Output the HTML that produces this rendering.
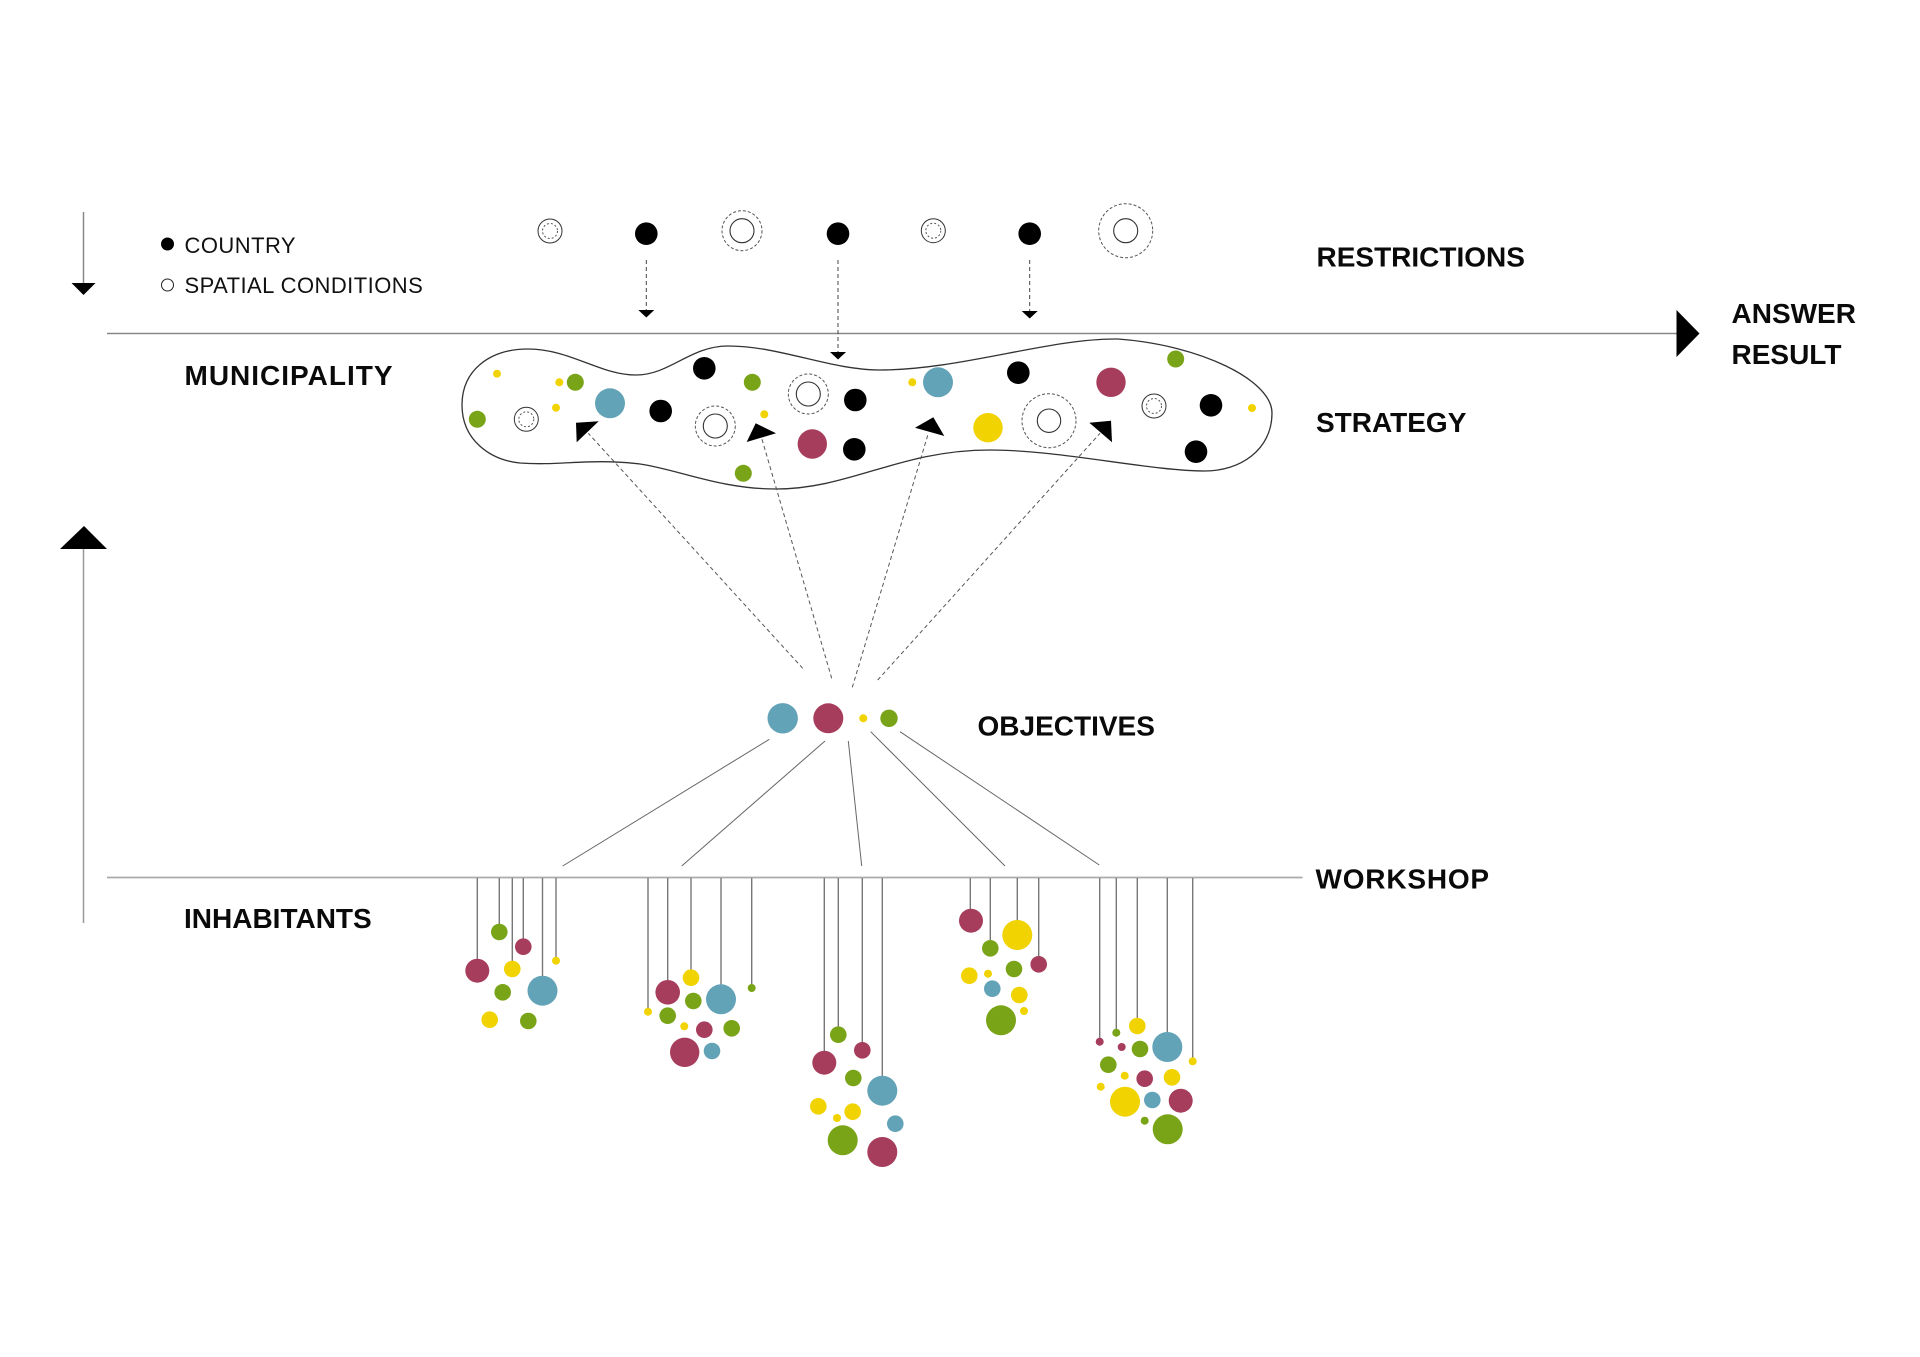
<!DOCTYPE html>
<html>
<head>
<meta charset="utf-8">
<style>
  html, body { margin: 0; padding: 0; background: #ffffff; }
  svg { display: block; }
  .lbl { font-family: "Liberation Sans", sans-serif; font-weight: bold; font-size: 28px; fill: #0a0a0a; }
  .leg { font-family: "Liberation Sans", sans-serif; font-size: 22px; fill: #111; letter-spacing: 0.45px; }
</style>
</head>
<body>
<svg width="1920" height="1357" viewBox="0 0 1920 1357" xmlns="http://www.w3.org/2000/svg">
  <rect x="0" y="0" width="1920" height="1357" fill="#ffffff"/>

  <!-- Left vertical arrows -->
  <line x1="83.5" y1="212" x2="83.5" y2="284" stroke="#888" stroke-width="1.5"/>
  <polygon points="71.5,283 95.5,283 83.5,295" fill="#000"/>
  <polygon points="60,549 107,549 84,526" fill="#000"/>
  <line x1="83.5" y1="549" x2="83.5" y2="923" stroke="#999" stroke-width="1.5"/>

  <!-- Legend -->
  <circle cx="167.5" cy="244" r="6.5" fill="#000"/>
  <text class="leg" x="184.5" y="253">COUNTRY</text>
  <circle cx="167.5" cy="285" r="6" fill="none" stroke="#222" stroke-width="1"/>
  <text class="leg" x="184.5" y="293">SPATIAL CONDITIONS</text>

  <!-- Top horizontal line + answer arrow -->
  <line x1="107" y1="333.5" x2="1678" y2="333.5" stroke="#888" stroke-width="1.5"/>
  <polygon points="1676.5,310 1676.5,357 1699.5,333.5" fill="#000"/>

  <!-- Labels -->
  <text class="lbl" x="1316.5" y="266.5">RESTRICTIONS</text>
  <text class="lbl" x="1731.5" y="323">ANSWER</text>
  <text class="lbl" x="1731.5" y="364">RESULT</text>
  <text class="lbl" x="184.5" y="385" style="letter-spacing:1px">MUNICIPALITY</text>
  <text class="lbl" x="1316" y="432">STRATEGY</text>
  <text class="lbl" x="977.5" y="735.5">OBJECTIVES</text>
  <text class="lbl" x="1315.5" y="888.5" style="letter-spacing:0.8px">WORKSHOP</text>
  <text class="lbl" x="184" y="928">INHABITANTS</text>

  <!-- Restrictions row -->
  <g>
    <circle cx="550" cy="231" r="12" fill="none" stroke="#333" stroke-width="1"/>
    <circle cx="550" cy="231" r="7.5" fill="none" stroke="#555" stroke-width="1" stroke-dasharray="2 2"/>
    <circle cx="646.3" cy="233.7" r="11.3" fill="#000"/>
    <circle cx="742" cy="230.7" r="20" fill="none" stroke="#555" stroke-width="1" stroke-dasharray="3 2"/>
    <circle cx="742" cy="230.7" r="12" fill="none" stroke="#333" stroke-width="1.1"/>
    <circle cx="838" cy="233.7" r="11.3" fill="#000"/>
    <circle cx="933.3" cy="230.7" r="12" fill="none" stroke="#333" stroke-width="1"/>
    <circle cx="933.3" cy="230.7" r="7.5" fill="none" stroke="#555" stroke-width="1" stroke-dasharray="2 2"/>
    <circle cx="1029.7" cy="233.7" r="11.3" fill="#000"/>
    <circle cx="1125.7" cy="230.7" r="27" fill="none" stroke="#555" stroke-width="1" stroke-dasharray="3 2"/>
    <circle cx="1125.7" cy="230.7" r="12" fill="none" stroke="#333" stroke-width="1.1"/>
  </g>

  <!-- Restriction dashed arrows -->
  <g stroke="#444" stroke-width="1" stroke-dasharray="4 3" fill="none">
    <line x1="646.3" y1="260" x2="646.3" y2="311"/>
    <line x1="838" y1="260" x2="838" y2="353"/>
    <line x1="1029.7" y1="260" x2="1029.7" y2="312"/>
  </g>
  <polygon points="638.3,310 654.3,310 646.3,317.5" fill="#000"/>
  <polygon points="830,352 846,352 838,359.5" fill="#000"/>
  <polygon points="1021.7,311 1037.7,311 1029.7,318.5" fill="#000"/>

  <!-- Blob -->
  <path d="M 462,405
           C 462,370 490,349 528,349
           C 570,349 600,375 636,375
           C 670,375 690,346 728,346
           C 780,346 830,370 880,370
           C 960,370 1050,338 1118,339
           C 1200,345 1272,380 1272,413
           C 1272,450 1240,471 1205,471
           C 1150,471 1060,450 990,450
           C 900,450 850,489 776,489
           C 720,489 680,470 640,464
           C 590,458 560,466 520,463
           C 490,460 462,440 462,405 Z"
        fill="none" stroke="#333" stroke-width="1.3"/>

  <!-- Blob contents -->
  <g>
    <circle cx="497" cy="373.7" r="4" fill="#f0d300"/>
    <circle cx="559.3" cy="382.3" r="4" fill="#f0d300"/>
    <circle cx="575.3" cy="382.3" r="8.5" fill="#7aa417"/>
    <circle cx="556" cy="407.7" r="4" fill="#f0d300"/>
    <circle cx="477.3" cy="419.3" r="8.5" fill="#7aa417"/>
    <circle cx="526.3" cy="419.3" r="12" fill="none" stroke="#333" stroke-width="1"/>
    <circle cx="526.3" cy="419.3" r="7.5" fill="none" stroke="#555" stroke-width="1" stroke-dasharray="2 2"/>
    <circle cx="610" cy="403.3" r="15" fill="#63a3b8"/>
    <circle cx="660.7" cy="411" r="11.3" fill="#000"/>
    <circle cx="704.3" cy="368.3" r="11.3" fill="#000"/>
    <circle cx="752.3" cy="382.3" r="8.5" fill="#7aa417"/>
    <circle cx="715.3" cy="426" r="20" fill="none" stroke="#555" stroke-width="1" stroke-dasharray="3 2"/>
    <circle cx="715.3" cy="426" r="12" fill="none" stroke="#333" stroke-width="1.1"/>
    <circle cx="764.3" cy="414.3" r="4" fill="#f0d300"/>
    <circle cx="808.3" cy="394" r="20" fill="none" stroke="#555" stroke-width="1" stroke-dasharray="3 2"/>
    <circle cx="808.3" cy="394" r="12" fill="none" stroke="#333" stroke-width="1.1"/>
    <circle cx="855.3" cy="400" r="11.3" fill="#000"/>
    <circle cx="812.3" cy="444" r="14.7" fill="#a73d5d"/>
    <circle cx="854.3" cy="449.3" r="11.3" fill="#000"/>
    <circle cx="743.3" cy="473.3" r="8.5" fill="#7aa417"/>
    <circle cx="912.3" cy="382.3" r="4" fill="#f0d300"/>
    <circle cx="938" cy="382.3" r="15" fill="#63a3b8"/>
    <circle cx="1018.3" cy="372.7" r="11.3" fill="#000"/>
    <circle cx="1111" cy="382.3" r="14.7" fill="#a73d5d"/>
    <circle cx="1175.7" cy="359" r="8.5" fill="#7aa417"/>
    <circle cx="1154" cy="406" r="12" fill="none" stroke="#333" stroke-width="1"/>
    <circle cx="1154" cy="406" r="7.5" fill="none" stroke="#555" stroke-width="1" stroke-dasharray="2 2"/>
    <circle cx="1211" cy="405.3" r="11.3" fill="#000"/>
    <circle cx="1252" cy="408" r="4" fill="#f0d300"/>
    <circle cx="988" cy="427.7" r="14.7" fill="#f0d300"/>
    <circle cx="1049" cy="420.7" r="27" fill="none" stroke="#555" stroke-width="1" stroke-dasharray="3 2"/>
    <circle cx="1049" cy="420.7" r="11.7" fill="none" stroke="#333" stroke-width="1.1"/>
    <circle cx="1196" cy="451.7" r="11.3" fill="#000"/>
  </g>

  <!-- Dashed lines from objectives to blob -->
  <g stroke="#555" stroke-width="1" stroke-dasharray="4 3" fill="none">
    <line x1="802.7" y1="668.3" x2="588.3" y2="433.3"/>
    <line x1="831.7" y1="678.3" x2="761.7" y2="438.3"/>
    <line x1="852.3" y1="687.3" x2="928.3" y2="433.3"/>
    <line x1="877.7" y1="680" x2="1100" y2="433.3"/>
  </g>
  <polygon points="576,422.7 598.7,421.3 576.7,442.3" fill="#000"/>
  <polygon points="746.7,442 755.7,423.3 776,433.3" fill="#000"/>
  <polygon points="915,427.7 933.3,417.3 944.3,436" fill="#000"/>
  <polygon points="1089.3,422.7 1111,420.7 1112,442.3" fill="#000"/>

  <!-- Objectives -->
  <circle cx="782.7" cy="718.3" r="15.2" fill="#63a3b8"/>
  <circle cx="828.3" cy="718.3" r="15" fill="#a73d5d"/>
  <circle cx="863.3" cy="718.3" r="4" fill="#f0d300"/>
  <circle cx="889" cy="718.3" r="8.7" fill="#7aa417"/>

  <!-- Objective lines -->
  <g stroke="#666" stroke-width="1" fill="none">
    <line x1="769.3" y1="739.3" x2="562.7" y2="866"/>
    <line x1="825" y1="741" x2="681.7" y2="866"/>
    <line x1="848.3" y1="741" x2="861.7" y2="866"/>
    <line x1="870.7" y1="731.7" x2="1005" y2="866"/>
    <line x1="900" y1="731.7" x2="1099.3" y2="865"/>
  </g>

  <!-- Workshop line -->
  <line x1="107" y1="877.5" x2="1302.5" y2="877.5" stroke="#aaa" stroke-width="1.8"/>

  <!-- Strings -->
  <g stroke="#777" stroke-width="1.4" fill="none">
    <line x1="477.3" y1="878" x2="477.3" y2="970"/>
    <line x1="499.3" y1="878" x2="499.3" y2="930"/>
    <line x1="512.3" y1="878" x2="512.3" y2="965"/>
    <line x1="523.3" y1="878" x2="523.3" y2="945"/>
    <line x1="542.5" y1="878" x2="542.5" y2="985"/>
    <line x1="556" y1="878" x2="556" y2="960"/>

    <line x1="648" y1="878" x2="648" y2="1010"/>
    <line x1="667.7" y1="878" x2="667.7" y2="990"/>
    <line x1="691" y1="878" x2="691" y2="975"/>
    <line x1="721" y1="878" x2="721" y2="995"/>
    <line x1="751.7" y1="878" x2="751.7" y2="987"/>

    <line x1="824.3" y1="878" x2="824.3" y2="1060"/>
    <line x1="838.3" y1="878" x2="838.3" y2="1033"/>
    <line x1="862.3" y1="878" x2="862.3" y2="1048"/>
    <line x1="882.3" y1="878" x2="882.3" y2="1085"/>

    <line x1="970.3" y1="878" x2="970.3" y2="918"/>
    <line x1="990.3" y1="878" x2="990.3" y2="946"/>
    <line x1="1017.3" y1="878" x2="1017.3" y2="930"/>
    <line x1="1038.7" y1="878" x2="1038.7" y2="962"/>

    <line x1="1099.7" y1="878" x2="1099.7" y2="1040"/>
    <line x1="1116.3" y1="878" x2="1116.3" y2="1031"/>
    <line x1="1137.3" y1="878" x2="1137.3" y2="1024"/>
    <line x1="1167.3" y1="878" x2="1167.3" y2="1042"/>
    <line x1="1192.7" y1="878" x2="1192.7" y2="1060"/>
  </g>

  <!-- Group 1 -->
  <g>
    <circle cx="477.3" cy="970.7" r="12" fill="#a73d5d"/>
    <circle cx="499.3" cy="932" r="8.3" fill="#7aa417"/>
    <circle cx="512.3" cy="969" r="8.3" fill="#f0d300"/>
    <circle cx="523.3" cy="946.7" r="8.3" fill="#a73d5d"/>
    <circle cx="542.5" cy="990.7" r="15" fill="#63a3b8"/>
    <circle cx="556" cy="960.7" r="4" fill="#f0d300"/>
    <circle cx="502.7" cy="992.3" r="8.3" fill="#7aa417"/>
    <circle cx="489.7" cy="1019.7" r="8.3" fill="#f0d300"/>
    <circle cx="528.3" cy="1021" r="8.3" fill="#7aa417"/>
  </g>

  <!-- Group 2 -->
  <g>
    <circle cx="648" cy="1011.7" r="4" fill="#f0d300"/>
    <circle cx="667.7" cy="992.3" r="12.3" fill="#a73d5d"/>
    <circle cx="691" cy="977.7" r="8.3" fill="#f0d300"/>
    <circle cx="721" cy="999.3" r="15" fill="#63a3b8"/>
    <circle cx="751.7" cy="988" r="4" fill="#7aa417"/>
    <circle cx="693.3" cy="1001" r="8.3" fill="#7aa417"/>
    <circle cx="667.7" cy="1015.7" r="8.3" fill="#7aa417"/>
    <circle cx="684.3" cy="1026.3" r="4" fill="#f0d300"/>
    <circle cx="704.3" cy="1029.7" r="8.3" fill="#a73d5d"/>
    <circle cx="731.7" cy="1028.3" r="8.3" fill="#7aa417"/>
    <circle cx="684.7" cy="1052.3" r="14.7" fill="#a73d5d"/>
    <circle cx="712" cy="1051" r="8.3" fill="#63a3b8"/>
  </g>

  <!-- Group 3 -->
  <g>
    <circle cx="824.3" cy="1062.7" r="12" fill="#a73d5d"/>
    <circle cx="838.3" cy="1034.7" r="8.3" fill="#7aa417"/>
    <circle cx="862.3" cy="1050.3" r="8.3" fill="#a73d5d"/>
    <circle cx="882.3" cy="1090.7" r="15" fill="#63a3b8"/>
    <circle cx="853.3" cy="1078" r="8.3" fill="#7aa417"/>
    <circle cx="818.3" cy="1106.3" r="8.3" fill="#f0d300"/>
    <circle cx="837" cy="1118" r="4" fill="#f0d300"/>
    <circle cx="852.7" cy="1111.7" r="8.3" fill="#f0d300"/>
    <circle cx="895.3" cy="1123.7" r="8.3" fill="#63a3b8"/>
    <circle cx="842.7" cy="1140.3" r="15" fill="#7aa417"/>
    <circle cx="882.3" cy="1152" r="15" fill="#a73d5d"/>
  </g>

  <!-- Group 4 -->
  <g>
    <circle cx="971" cy="920.7" r="12" fill="#a73d5d"/>
    <circle cx="990.3" cy="948.3" r="8.3" fill="#7aa417"/>
    <circle cx="1017.3" cy="935" r="15" fill="#f0d300"/>
    <circle cx="1038.7" cy="964.3" r="8.3" fill="#a73d5d"/>
    <circle cx="969.3" cy="975.7" r="8.3" fill="#f0d300"/>
    <circle cx="988" cy="973.7" r="4" fill="#f0d300"/>
    <circle cx="1014" cy="969" r="8.3" fill="#7aa417"/>
    <circle cx="992.3" cy="988.7" r="8.3" fill="#63a3b8"/>
    <circle cx="1019.3" cy="995" r="8.3" fill="#f0d300"/>
    <circle cx="1024" cy="1011" r="4" fill="#f0d300"/>
    <circle cx="1001" cy="1020.3" r="15" fill="#7aa417"/>
  </g>

  <!-- Group 5 -->
  <g>
    <circle cx="1099.7" cy="1041.7" r="4" fill="#a73d5d"/>
    <circle cx="1116.3" cy="1032.7" r="4" fill="#7aa417"/>
    <circle cx="1137.3" cy="1026" r="8.3" fill="#f0d300"/>
    <circle cx="1167.3" cy="1047" r="15" fill="#63a3b8"/>
    <circle cx="1192.7" cy="1061.3" r="4" fill="#f0d300"/>
    <circle cx="1121.7" cy="1047" r="4" fill="#a73d5d"/>
    <circle cx="1140" cy="1049" r="8.3" fill="#7aa417"/>
    <circle cx="1108.3" cy="1064.7" r="8.3" fill="#7aa417"/>
    <circle cx="1124.7" cy="1075.7" r="4" fill="#f0d300"/>
    <circle cx="1144.7" cy="1078.7" r="8.3" fill="#a73d5d"/>
    <circle cx="1172" cy="1077.3" r="8.3" fill="#f0d300"/>
    <circle cx="1100.7" cy="1086.7" r="4" fill="#f0d300"/>
    <circle cx="1125" cy="1101.7" r="15" fill="#f0d300"/>
    <circle cx="1152.3" cy="1100" r="8.3" fill="#63a3b8"/>
    <circle cx="1180.7" cy="1100.7" r="12" fill="#a73d5d"/>
    <circle cx="1144.7" cy="1120.7" r="4" fill="#7aa417"/>
    <circle cx="1167.7" cy="1129.3" r="15" fill="#7aa417"/>
  </g>
</svg>
</body>
</html>
